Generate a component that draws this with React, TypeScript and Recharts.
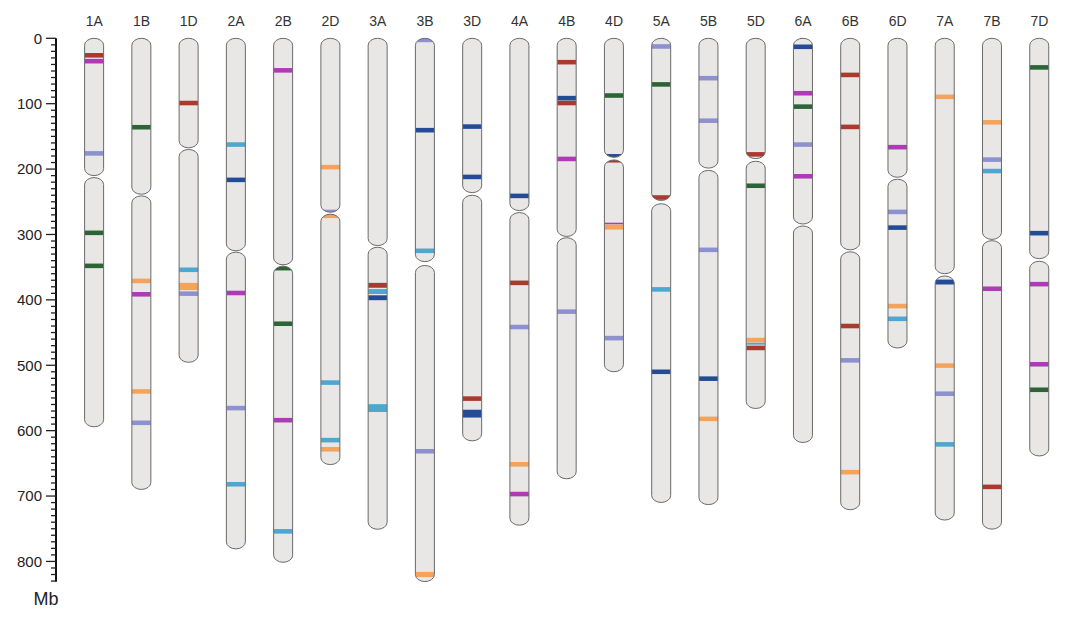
import { BarChart, Bar, XAxis, YAxis } from 'recharts';

const chromosomes = ['1A', '1B', '1D', '2A', '2B', '2D', '3A', '3B', '3D', '4A', '4B', '4D', '5A', '5B', '5D', '6A', '6B', '6D', '7A', '7B', '7D'];
const lengths = [594.1, 689.9, 495.5, 780.8, 801.3, 651.9, 750.8, 830.8, 615.6, 744.6, 673.6, 509.9, 709.8, 713.1, 566.1, 618.1, 720.9, 473.6, 736.7, 750.6, 638.7];
const cenStarts = [210, 238.5, 167.5, 325, 346.5, 266, 317, 341.5, 236, 263.5, 303, 182, 248, 198.5, 184, 284, 323.5, 212.5, 360, 307.5, 337];
const cenEnds = [213, 241, 170, 327, 348.5, 269, 319.5, 347.5, 240, 266.5, 305, 186, 253, 202, 188, 287, 326.5, 215.5, 363.5, 309.5, 341];

const majorTicks = [0, 100, 200, 300, 400, 500, 600, 700, 800];
const minorTicks = Array.from({ length: 84 }, (_, i) => i * 10);

type Band = [string, number, number];

const redBands: Band[] = [
  ['1A', 22.5, 29.5], ['1D', 95.5, 102.5], ['3A', 374, 381.5], ['3D', 547.5, 554.5], ['4A', 370.5, 377.5],
  ['4B', 33, 40], ['4B', 95.5, 102.5], ['4D', 184, 190], ['5A', 240, 247], ['5D', 174, 181], ['5D', 470, 477],
  ['6B', 52.5, 59.5], ['6B', 132, 139], ['6B', 436.5, 443.5], ['7B', 682.5, 689.5],
];
const magentaBands: Band[] = [
  ['1A', 31.5, 38.5], ['1B', 388, 395], ['2A', 386, 393], ['2B', 45.5, 52.5], ['2B', 580.5, 587.5],
  ['4A', 693.5, 700.5], ['4B', 181, 188], ['4D', 282, 284.5], ['6A', 80.5, 87.5], ['6A', 207.5, 214.5],
  ['6D', 163, 170], ['7B', 379.5, 386.5], ['7D', 372.5, 379.5], ['7D', 495, 502],
];
const lavenderBands: Band[] = [
  ['1A', 172.5, 179.5], ['1B', 584.5, 591.5], ['1D', 387, 394], ['2A', 562, 569], ['2D', 262, 270],
  ['3B', 0, 6], ['3B', 628, 635], ['4A', 438, 445], ['4B', 414.5, 421.5], ['4D', 455, 462], ['5A', 9, 16],
  ['5B', 57.5, 64.5], ['5B', 122.5, 129.5], ['5B', 320, 327], ['6A', 159, 166], ['6B', 489, 496],
  ['6D', 262, 269], ['7A', 540, 547], ['7B', 182, 189],
];
const greenBands: Band[] = [
  ['1A', 294, 301], ['1A', 344.5, 351.5], ['1B', 132.5, 139.5], ['2B', 346, 355], ['2B', 433, 440],
  ['4D', 84, 91], ['5A', 67, 74], ['5D', 222, 229], ['6A', 101, 108], ['7D', 41, 48], ['7D', 534, 541],
];
const lightBlueBands: Band[] = [
  ['1D', 350.5, 357.5], ['2A', 159, 166], ['2A', 678.5, 685.5], ['2B', 750.5, 757.5], ['2D', 523, 530],
  ['2D', 611, 618], ['3A', 383.5, 391], ['3A', 559.5, 571.5], ['3B', 321.5, 328.5], ['5A', 380.5, 387.5],
  ['5D', 465.5, 468.5], ['6D', 425.5, 432.5], ['7A', 617.5, 624.5], ['7B', 199.5, 206.5],
];
const darkBlueBands: Band[] = [
  ['2A', 213, 220], ['3A', 393, 400.5], ['3B', 137, 144], ['3D', 131.5, 138.5], ['3D', 208.5, 215.5],
  ['3D', 568, 580], ['4A', 237.5, 244.5], ['4B', 88, 95], ['4D', 177, 183], ['5A', 506.5, 513.5],
  ['5B', 517, 524], ['6A', 9.5, 16.5], ['6D', 286, 293], ['7A', 369, 376.5], ['7D', 294.5, 301.5],
];
const orangeBands: Band[] = [
  ['1B', 367.5, 374.5], ['1B', 536.5, 543.5], ['1D', 374, 385], ['2D', 193.5, 200.5], ['2D', 268, 275],
  ['2D', 625, 632], ['3B', 816, 824], ['4A', 648, 655], ['4D', 285, 292.5], ['5B', 578.5, 585.5],
  ['5D', 458, 465], ['6B', 660, 667], ['6D', 406, 413], ['7A', 86, 93], ['7A', 497, 504], ['7B', 125, 132],
];

const bandGroups: { color: string; bands: Band[] }[] = [
  { color: '#a93a2e', bands: redBands },
  { color: '#ad3bb5', bands: magentaBands },
  { color: '#8e91cf', bands: lavenderBands },
  { color: '#2d6436', bands: greenBands },
  { color: '#4ea7d0', bands: lightBlueBands },
  { color: '#244c96', bands: darkBlueBands },
  { color: '#f5a35a', bands: orangeBands },
];

const rows = chromosomes.map((name, i) => ({
  name,
  length: lengths[i],
  cenStart: cenStarts[i],
  cenEnd: cenEnds[i],
  bands: bandGroups.flatMap(g =>
    g.bands.filter(b => b[0] === name).map(b => ({ start: b[1], end: b[2], color: g.color }))
  ),
}));

const font = '"Liberation Sans", Arial, sans-serif';

function ChromShape(props: any) {
  const { x, y, width, height, payload } = props;
  if (!payload) return null;
  const top = Math.min(y, y + height);
  const h = Math.abs(height);
  const py = (mb: number) => top + (Math.min(mb, payload.length) / payload.length) * h;
  const id = `chr-clip-${payload.name}`;
  const rx = width / 2;
  const ry = 7;
  const arms = [
    [top, py(payload.cenStart)],
    [py(payload.cenEnd), top + h],
  ];
  return (
    <g>
      <defs>
        <clipPath id={id}>
          {arms.map(([a, b], i) => (
            <rect key={i} x={x} y={a} width={width} height={b - a} rx={rx} ry={ry} />
          ))}
        </clipPath>
      </defs>
      {arms.map(([a, b], i) => (
        <rect key={'f' + i} x={x} y={a} width={width} height={b - a} rx={rx} ry={ry} fill="#e8e7e6" />
      ))}
      <g clipPath={`url(#${id})`}>
        {payload.bands.map((b: any, i: number) => (
          <rect key={'b' + i} x={x} y={py(b.start)} width={width} height={py(b.end) - py(b.start)} fill={b.color} />
        ))}
      </g>
      {arms.map(([a, b], i) => (
        <rect key={'o' + i} x={x} y={a} width={width} height={b - a} rx={rx} ry={ry} fill="none" stroke="#6a6a6a" strokeWidth={1} />
      ))}
    </g>
  );
}

function YTick({ x, y, payload }: any) {
  const major = majorTicks.includes(payload.value);
  return (
    <g>
      <line x1={x - (major ? 10 : 5)} x2={x} y1={y} y2={y} stroke="#222" strokeWidth={1.3} />
      {major && (
        <text x={x - 14} y={y} dy="0.36em" textAnchor="end" fontSize={15} fontFamily={font} fill="#222">
          {payload.value}
        </text>
      )}
    </g>
  );
}

function XTick({ x, payload }: any) {
  return (
    <text x={x} y={26} textAnchor="middle" fontSize={14} fontFamily={font} fill="#333">
      {payload.value}
    </text>
  );
}

export default function App() {
  return (
    <div style={{ position: 'absolute', left: 0, top: 0, background: '#fff' }}>
      <BarChart width={1080} height={621} data={rows} margin={{ top: 8.3, right: 17, bottom: 39.3, left: 0 }}>
        <XAxis
          dataKey="name"
          orientation="top"
          height={30}
          axisLine={false}
          tickLine={false}
          tickSize={0}
          interval={0}
          padding={{ left: 14.6, right: 0 }}
          tick={(p: any) => <XTick {...p} />}
        />
        <YAxis
          type="number"
          domain={[0, 831]}
          reversed
          width={56}
          ticks={minorTicks}
          interval={0}
          tickSize={0}
          tickMargin={0}
          tickLine={false}
          axisLine={{ stroke: '#111', strokeWidth: 2 }}
          tick={(p: any) => <YTick {...p} />}
          label={{
            content: (p: any) => {
              const vb = p.viewBox || { x: 0, y: 38.3, width: 56, height: 543.4 };
              return (
                <text x={vb.x + vb.width - 10} y={vb.y + vb.height + 23} textAnchor="middle" fontSize={18} fontFamily={font} fill="#222">
                  Mb
                </text>
              );
            },
          }}
        />
        <Bar dataKey="length" barSize={19} isAnimationActive={false} shape={(p: any) => <ChromShape {...p} />} />
      </BarChart>
    </div>
  );
}
